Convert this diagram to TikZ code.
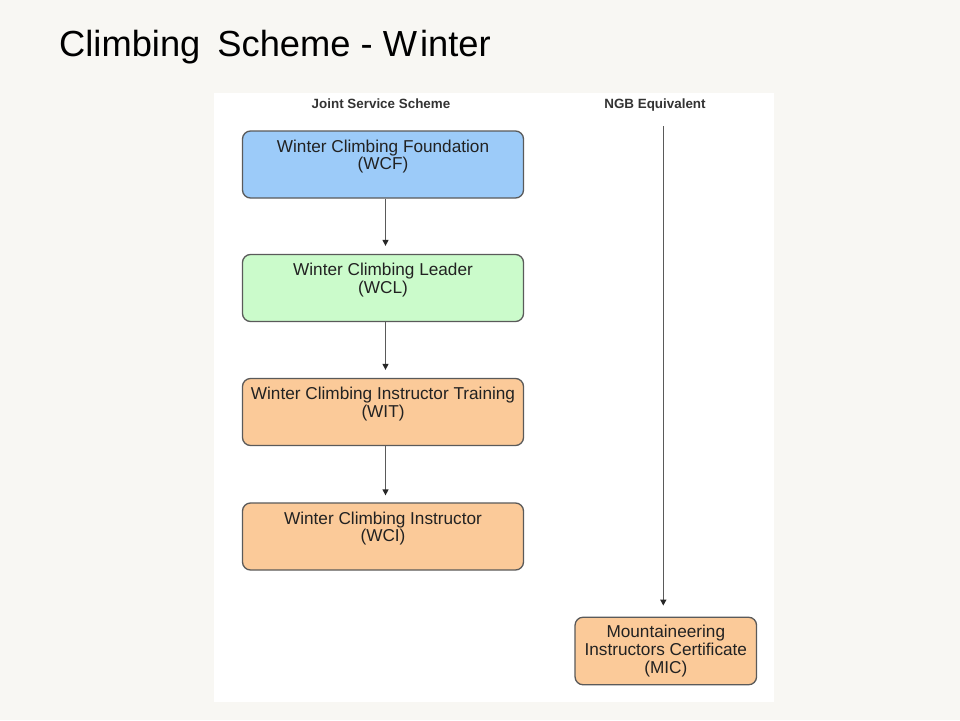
\documentclass[tikz,border=0pt]{standalone}
\usepackage{fontspec}
\setmainfont{Liberation Sans}
\usetikzlibrary{arrows.meta}
\definecolor{pagebg}{HTML}{F8F7F3}
\definecolor{cblue}{HTML}{9CCBF9}
\definecolor{cgreen}{HTML}{CBFBCB}
\definecolor{corange}{HTML}{FBCA99}
\definecolor{edgegray}{HTML}{5A5A5A}
\definecolor{txt}{HTML}{222222}
\definecolor{headtxt}{HTML}{333333}
\begin{document}
\begin{tikzpicture}[x=1pt,y=-1pt,
  box/.style={draw=edgegray, line width=1.3pt, rounded corners=8pt, inner sep=0pt, minimum width=281pt, minimum height=67pt},
  boxtext/.style={align=center, inner sep=0pt, text=txt, font=\fontsize{17.2}{17.8}\selectfont},
  heading/.style={anchor=base, inner sep=0pt, text=headtxt, font=\bfseries\fontsize{13.4}{15}\selectfont},
  conn/.style={draw=edgegray, line width=1.3pt, -{Triangle[width=6pt,length=6pt,color=black!85]}}
]
\useasboundingbox (0,0) rectangle (960,720);
\fill[pagebg] (0,0) rectangle (960,720);
\fill[white] (214,92.7) rectangle (774,701.7);

\node[anchor=base west, inner sep=0pt, font=\fontsize{36.3}{40}\selectfont] (title) at (59,56.7) {Climbing\hspace{7pt} Scheme - W\hspace{3pt}inter};

\node[heading] (jss) at (381,108.5) {Joint Service Scheme};
\node[heading] (ngb) at (655,108.5) {NGB Equivalent};

\node[box, fill=cblue] (wcf) at (383,164.5) {};
\node[boxtext] (wcft) at ([yshift=8pt]wcf.center) {Winter Climbing Foundation\\(WCF)};

\node[box, fill=cgreen] (wcl) at (383,288) {};
\node[boxtext] (wclt) at ([yshift=8pt]wcl.center) {Winter Climbing Leader\\(WCL)};

\node[box, fill=corange] (wit) at (383,412) {};
\node[boxtext] (witt) at ([yshift=8pt]wit.center) {Winter Climbing Instructor Training\\(WIT)};

\node[box, fill=corange] (wci) at (383,536.5) {};
\node[boxtext] (wcit) at ([yshift=8pt]wci.center) {Winter Climbing Instructor\\(WCI)};

\node[box, fill=corange, minimum width=181.5pt, minimum height=67.5pt] (mic) at (665.8,651) {};
\node[boxtext] (mict) at (mic.center) {Mountaineering\\Instructors Certificate\\(MIC)};

\coordinate (ngbtop) at (663.3,126);

\draw[conn, shorten >=8pt] ([xshift=2.5pt]wcf.south) -- ([xshift=2.5pt]wcl.north);
\draw[conn, shorten >=8pt] ([xshift=2.5pt]wcl.south) -- ([xshift=2.5pt]wit.north);
\draw[conn, shorten >=7pt] ([xshift=2.5pt]wit.south) -- ([xshift=2.5pt]wci.north);
\draw[conn, shorten >=11pt] (ngbtop) -- (ngbtop |- mic.north);
\end{tikzpicture}
\end{document}
